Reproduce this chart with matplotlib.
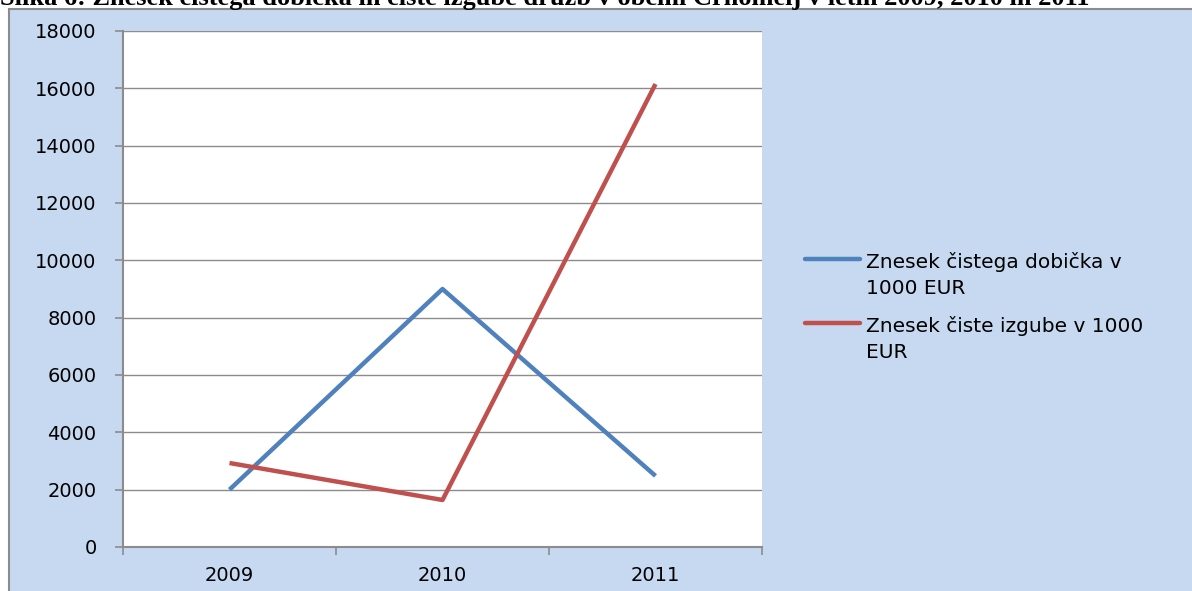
import numpy as np
import matplotlib
matplotlib.use('Agg')
import matplotlib.pyplot as plt
from matplotlib.patches import Rectangle
from matplotlib.lines import Line2D

### Data
years = ['2009', '2010', '2011']
dobicek = [2000, 9000, 2480]      # Znesek cistega dobicka (1000 EUR)
izguba = [2930, 1640, 16150]      # Znesek ciste izgube (1000 EUR)
labels = ['Znesek čistega dobička v\n1000 EUR', 'Znesek čiste izgube v 1000\nEUR']
colors = ['#4F81BD', '#C0504D']
title = 'Slika 6: Znesek čistega dobička in čiste izgube družb v občini Črnomelj v letih 2009, 2010 in 2011'
yticks = np.arange(0, 18001, 2000)

def main():
    W, H = 1192, 591
    fig = plt.figure(figsize=(W/100, H/100), dpi=100)
    fig.patch.set_facecolor('white')

    ### chart area (light blue box, cut off at right and bottom)
    fig.patches.append(Rectangle((9/W, -0.1), 1.2, (H-9)/H+0.1, transform=fig.transFigure,
                                 facecolor='#C6D9F0', edgecolor='#8C8C8C', lw=1.5, zorder=0))

    ### title, only lower part visible (as in the source)
    fig.text(0.0, (H-5)/H, title, ha='left', va='baseline', fontsize=19,
             fontweight='bold', family='Liberation Serif')

    ax = fig.add_axes([123/W, 44/H, (762-123)/W, (547-31)/H])
    ax.set_zorder(2)
    ax.set_facecolor('white')
    x = np.arange(len(years))
    ax.plot(x, dobicek, color=colors[0], lw=3.2, solid_capstyle='butt')
    ax.plot(x, izguba, color=colors[1], lw=3.2, solid_capstyle='butt')

    ax.set_xlim(-0.5, len(years)-0.5)
    ax.set_ylim(0, 18000)
    ax.set_yticks(yticks)
    ax.set_yticklabels([str(v) for v in yticks])
    ax.set_xticks(np.arange(-0.5, len(years)), labels=[])
    ax.set_xticks(x, minor=True)
    ax.set_xticklabels(years, minor=True)
    ax.tick_params(axis='x', which='major', length=6, width=1.2, color='#8C8C8C', direction='out')
    ax.tick_params(axis='x', which='minor', length=0, pad=14, labelsize=14)
    ax.tick_params(axis='y', length=6, width=1.2, color='#8C8C8C', direction='out', pad=13, labelsize=14)

    ax.yaxis.grid(True, color='#8C8C8C', lw=1)
    ax.set_axisbelow(True)
    for s in ['top', 'right']:
        ax.spines[s].set_visible(False)
    for s in ['left', 'bottom']:
        ax.spines[s].set_color('#8C8C8C')
        ax.spines[s].set_linewidth(1.5)

    ### Legend (handle aligned with the first text line)
    for i, (lab, c) in enumerate(zip(labels, colors)):
        yl = 1 - (259 + 64*i)/H
        fig.lines.append(Line2D([805/W, 860/W], [yl, yl], transform=fig.transFigure,
                                color=c, lw=3.2, solid_capstyle='round', zorder=3))
        fig.text(866/W, yl - 10/H, lab, ha='left', va='center_baseline', fontsize=14.5,
                 linespacing=1.5, zorder=3)

    fig.savefig('out.png', dpi=100)
    return

if __name__ == "__main__":
    main()
